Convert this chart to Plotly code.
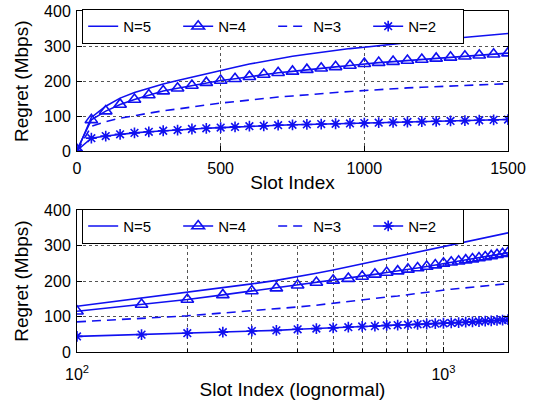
import plotly.graph_objects as go

slots = list(range(0, 1501, 50))
n5 = [0, 97, 129, 152, 168, 181, 192, 202, 212, 222, 231, 240, 249, 257, 264, 271,
      277, 283, 288, 293, 297, 302, 306, 310, 314, 318, 322, 325, 329, 332, 336]
n4 = [5, 90, 115, 134, 148, 161, 172, 180, 188, 196, 202, 207, 213, 219, 224, 228,
      233, 237, 241, 245, 250, 253, 256, 259, 262, 265, 268, 271, 274, 277, 280]
n3 = [0, 72, 85, 95, 102, 110, 116, 121, 127, 132, 138, 142, 147, 151, 155, 158,
      162, 165, 168, 171, 174, 177, 179, 181, 183, 185, 187, 189, 191, 192, 193]
n2 = [3, 38, 44, 49, 53, 56, 59, 61, 64, 66, 68, 70, 72, 73, 75, 76,
      77, 78, 79, 80, 81, 82, 83, 84, 85, 86, 87, 88, 89, 90, 91]

names = ["N=5", "N=4", "N=3", "N=2"]
series = [n5, n4, n3, n2]
lin_xticks = [0, 500, 1000, 1500]
yticks = [0, 100, 200, 300, 400]
log_xticks = [100, 1000]
log_xticktext = ["10<sup>2</sup>", "10<sup>3</sup>"]
log_minor = [200, 300, 400, 500, 600, 700, 800, 900]

BLUE = "#1010f0"
styles = [
    dict(mode="lines", line=dict(color=BLUE, width=1.6)),
    dict(mode="lines+markers", line=dict(color=BLUE, width=1.6),
         marker=dict(symbol="triangle-up-open", size=11, color=BLUE, line=dict(width=1.6, color=BLUE))),
    dict(mode="lines", line=dict(color=BLUE, width=1.6, dash="9px,6px")),
    dict(mode="lines+markers", line=dict(color=BLUE, width=1.6),
         marker=dict(symbol="asterisk-open", size=9, color=BLUE, line=dict(width=1.6, color=BLUE))),
]

fig = go.Figure()
for nm, ys, st in zip(names, series, styles):
    fig.add_trace(go.Scatter(x=slots, y=ys, name=nm, xaxis="x", yaxis="y",
                             legend="legend", **st))
log_slots = [s for s in slots if s >= 100]
for nm, ys, st in zip(names, series, styles):
    yv = [v for s, v in zip(slots, ys) if s >= 100]
    fig.add_trace(go.Scatter(x=log_slots, y=yv, name=nm, xaxis="x2", yaxis="y2",
                             legend="legend2", **st))

FONT = "Liberation Sans, Arial, Helvetica, sans-serif"
common_axis = dict(showline=True, linecolor="black", linewidth=1, mirror="ticks",
                   ticks="inside", ticklen=5, tickcolor="black", automargin=False,
                   showgrid=True, gridcolor="#555", gridwidth=1, griddash="dot",
                   zeroline=False, tickfont=dict(size=16, color="black", family=FONT))

leg_common = dict(orientation="h", xanchor="left", yanchor="top",
                  bordercolor="black", borderwidth=1, bgcolor="white",
                  font=dict(size=15, color="black", family=FONT),
                  entrywidth=50, entrywidthmode="pixels", itemwidth=30,
                  tracegroupgap=0)

fig.update_layout(
    width=540, height=400,
    margin=dict(l=77, r=32, t=10, b=47.5),
    paper_bgcolor="white", plot_bgcolor="white",
    font=dict(family=FONT, color="black"),
    showlegend=True,
    xaxis=dict(domain=[0, 1], anchor="y", range=[0, 1500], tickvals=lin_xticks,
               ticklabelstandoff=2,
               title=dict(text="Slot Index", font=dict(size=19), standoff=0),
               **common_axis),
    yaxis=dict(domain=[0.588, 1], anchor="x", range=[0, 400], tickvals=yticks,
               ticklabelstandoff=2,
               title=dict(text="Regret (Mbps)", font=dict(size=19), standoff=10),
               **common_axis),
    xaxis2=dict(domain=[0, 1], anchor="y2", type="log", range=[2, 3.1761],
                tickvals=log_xticks, ticktext=log_xticktext, ticklabelstandoff=8,
                minor=dict(tickvals=log_minor, ticks="inside", ticklen=3, tickcolor="black",
                           showgrid=True, gridcolor="#555", griddash="dot"),
                title=dict(text="Slot Index (lognormal)", font=dict(size=19), standoff=0),
                **common_axis),
    yaxis2=dict(domain=[0, 0.416], anchor="x2", range=[0, 400], tickvals=yticks,
                ticklabelstandoff=2,
                title=dict(text="Regret (Mbps)", font=dict(size=19), standoff=10),
                **common_axis),
    legend=dict(x=0.012, y=1.003, **leg_common),
    legend2=dict(x=0.012, y=0.419, **leg_common),
)

fig.write_html("out.html")
